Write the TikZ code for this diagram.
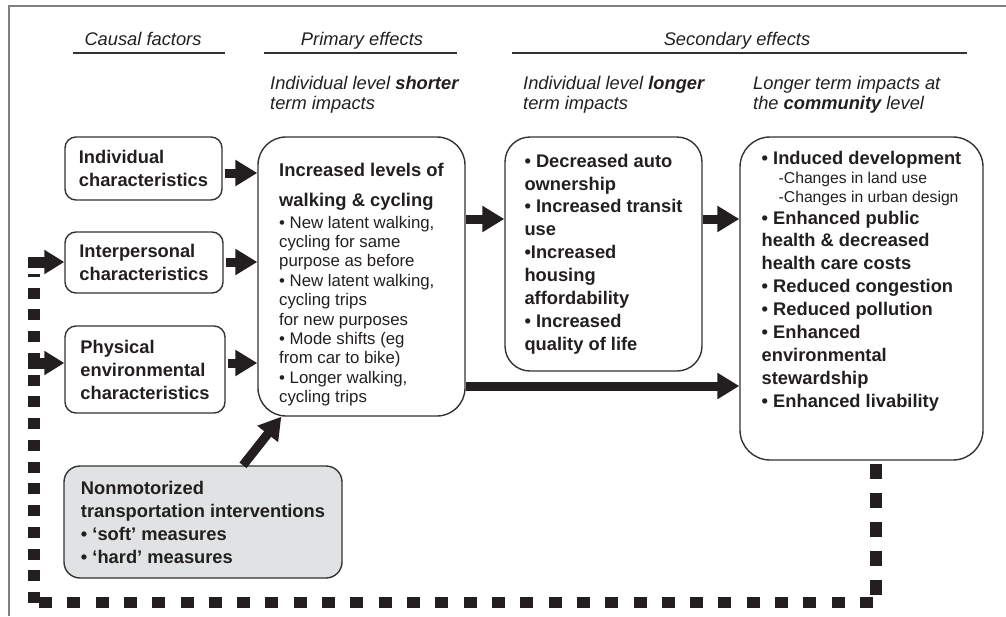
\documentclass[tikz,border=0pt]{standalone}
\usepackage{fontspec}
\setmainfont{Liberation Sans}
\usetikzlibrary{arrows.meta,calc}
\definecolor{ink}{HTML}{231F20}
\definecolor{boxline}{HTML}{333333}
\definecolor{framegray}{HTML}{808080}
\definecolor{nmtfill}{HTML}{E1E2E3}
\begin{document}
\begin{tikzpicture}[x=1pt,y=-1pt,
  every node/.style={text=ink},
  causebox/.style={draw=boxline, line width=1.4pt, rounded corners=11pt, align=left, inner sep=0pt,
    font=\bfseries\fontsize{18.3}{23}\selectfont},
  bigbox/.style={draw=boxline, line width=1.4pt, rounded corners=28pt, align=left, inner sep=0pt},
  boxtext/.style={align=left, inner sep=0pt},
  blockarrow/.style={draw=ink, line width=9pt, -{Triangle[length=22pt,width=25pt]}},
  dotarrow/.style={draw=ink, line width=11pt, -{Triangle[length=20pt,width=23pt]}},
  dotline/.style={draw=ink, line width=11.5pt},
  header/.style={font=\itshape\fontsize{18.3}{20}\selectfont, anchor=base, inner sep=0pt},
  subheader/.style={font=\itshape\fontsize{18.3}{20}\selectfont, align=left, anchor=north west, inner sep=0pt},
  rule/.style={draw=boxline, line width=1.5pt},
]
\useasboundingbox (0,0) rectangle (1006,616);
% frame
\draw[framegray, line width=2pt] (9,616) -- (9,6) -- (1006,6);

% headers
\node[header] (hcausal) at (143,45) {Causal factors};
\node[header] (hprim) at (362,45) {Primary effects};
\node[header] (hsec) at (737,45) {Secondary effects};
\draw[rule] (73,53) -- (225,53);
\draw[rule] (264,53) -- (457,53);
\draw[rule] (512,53) -- (967,53);
\node[subheader] (sh1) at (270,76) {Individual level \textbf{shorter}\\term impacts};
\node[subheader] (sh2) at (523,76) {Individual level \textbf{longer}\\term impacts};
\node[subheader] (sh3) at (753,76) {Longer term impacts at\\the \textbf{community} level};

% causal boxes
\node[causebox, minimum width=157pt, minimum height=63pt] (ind) at (143.5,168.5) {Individual\\characteristics};
\node[causebox, minimum width=158pt, minimum height=61pt] (inter) at (144,262.5) {Interpersonal\\characteristics};
\node[causebox, minimum width=160pt, minimum height=87pt] (phys) at (145,369.5) {Physical\\environmental\\characteristics};
\node[causebox, fill=nmtfill, rounded corners=16pt, minimum width=278pt, minimum height=112pt] (nmt) at (203,522)
  {Nonmotorized\\transportation interventions\\• ‘soft’ measures\\• ‘hard’ measures};

% primary box
\node[bigbox, minimum width=207pt, minimum height=279pt] (prim) at (361.5,276.5) {};
\node[boxtext, font=\fontsize{16.8}{19.4}\selectfont] (primtext) at (361.5,284.5)
  {{\bfseries\fontsize{18.4}{19.4}\selectfont Increased levels of}\\[10.6pt]
   {\bfseries\fontsize{18.4}{19.4}\selectfont walking \& cycling}\\[2.6pt]
   • New latent walking,\\ cycling for same\\ purpose as before\\
   • New latent walking,\\ cycling trips\\ for new purposes\\
   • Mode shifts (eg\\ from car to bike)\\
   • Longer walking,\\ cycling trips};

% longer term individual
\node[bigbox, rounded corners=25pt, minimum width=197pt, minimum height=234pt, font=\bfseries\fontsize{18.3}{22.9}\selectfont] (long) at (603.5,254)
  {• Decreased auto\\ ownership\\ • Increased transit\\ use\\ •Increased\\ housing\\ affordability\\ • Increased\\ quality of life};

% community
\node[bigbox, rounded corners=30pt, minimum width=243pt, minimum height=323pt] (comm) at (861.5,298.5) {};
\node[boxtext, font=\bfseries\fontsize{18.3}{23}\selectfont] (commtext) at (861.5,281.3)
  {• Induced development\\[-4pt]
   {\mdseries\fontsize{15.7}{23}\selectfont\hspace*{17pt}-Changes in land use}\\[-4pt]
   {\mdseries\fontsize{15.7}{23}\selectfont\hspace*{17pt}-Changes in urban design}\\[-1.5pt]
   • Enhanced public\\[-0.5pt] health \& decreased\\ health care costs\\
   • Reduced congestion\\ • Reduced pollution\\
   • Enhanced\\[-0.7pt] environmental\\ stewardship\\ • Enhanced livability};

% arrow rows
\coordinate (r1) at (0,173);
\coordinate (r2) at (0,262);
\coordinate (r3) at (0,363);
\coordinate (r4) at (0,219);
\coordinate (r5) at (0,386);
\draw[blockarrow, shorten <=2pt] (ind.east |- r1) -- (prim.west |- r1);
\draw[blockarrow, shorten <=2pt] (inter.east |- r2) -- (prim.west |- r2);
\draw[blockarrow, shorten <=2pt] (phys.east |- r3) -- (prim.west |- r3);
\draw[blockarrow] (prim.east |- r4) -- (long.west |- r4);
\draw[blockarrow] (long.east |- r4) -- (comm.west |- r4);
\draw[blockarrow] (prim.east |- r5) -- (comm.west |- r5);
\draw[blockarrow] ([xshift=40pt]nmt.north) -- ([xshift=24pt]prim.south west);

% feedback loop
\coordinate (fbR) at ([xshift=14.5pt]comm.south);
\coordinate (c1) at (876,602);
\coordinate (c2) at (34,602);
\coordinate (c3) at (34,262);
\coordinate (c4) at (34,363);
\draw[dotline, dash pattern=on 15pt off 14pt] ([yshift=-3pt]fbR) -- ([yshift=7pt]c1);
\draw[dotline, line width=11pt, dash pattern=on 13pt off 15.31pt] ([xshift=-3pt]c1) -- ([xshift=4pt]c2);
\draw[dotline, dash pattern=on 11pt off 10.75pt] ([yshift=-1pt]c2) -- ([yshift=-12pt]c3);
\draw[dotarrow] ([xshift=-6pt]c3) -- (inter.west |- c3);
\draw[dotarrow] ([xshift=-6pt]c4) -- (phys.west |- c4);
\end{tikzpicture}
\end{document}
